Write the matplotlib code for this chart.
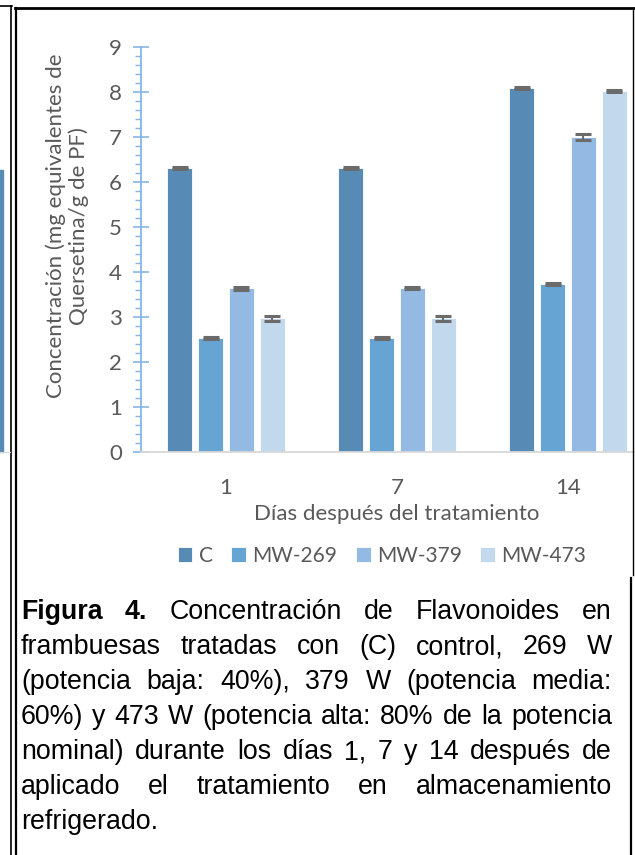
import matplotlib
matplotlib.use('Agg')
import numpy as np
import matplotlib.pyplot as plt
from matplotlib.lines import Line2D
from matplotlib.patches import Rectangle

# Flavonoid concentration (mg quercetin eq / g FW) per day and treatment
dias = ['1', '7', '14']
series = ['C', 'MW-269', 'MW-379', 'MW-473']
conc_c = [6.31, 6.31, 8.09]
conc_269 = [2.53, 2.53, 3.74]
conc_379 = [3.64, 3.64, 7.00]
conc_473 = [2.97, 2.97, 8.03]
err_c = [0.02, 0.02, 0.03]
err_269 = [0.02, 0.02, 0.02]
err_379 = [0.03, 0.02, 0.07]
err_473 = [0.05, 0.06, 0.02]

colores = ['#578BB6', '#65A4D3', '#94B9E2', '#C2D8ED']

caption = [
    [('Figura', True), ('4.', True), ('Concentración', False), ('de', False),
     ('Flavonoides', False), ('en', False)],
    'frambuesas tratadas con (C) control, 269 W',
    '(potencia baja: 40%), 379 W (potencia media:',
    '60%) y 473 W (potencia alta: 80% de la potencia',
    'nominal) durante los días 1, 7 y 14 después de',
    'aplicado el tratamiento en almacenamiento',
    'refrigerado.',
]

W, H = 635, 855
fig = plt.figure(figsize=(W / 100, H / 100), dpi=100)
fig.patch.set_facecolor('white')

gray = '#595959'
font = 'Lato'
fs = 16

# chart area (extends past the right edge of the page crop)
ax = fig.add_axes([140.5 / W, 1 - 452 / H, 513 / W, 405 / H])
x = np.arange(len(dias))
step = 0.181
bw = 0.146
vals = [conc_c, conc_269, conc_379, conc_473]
errs = [err_c, err_269, err_379, err_473]
for i, (v, e, c, s) in enumerate(zip(vals, errs, colores, series)):
    xs = x + (i - 1.5) * step
    ax.bar(xs, v, bw, color=c, edgecolor='white', linewidth=0.6, label=s, zorder=2)
    ax.errorbar(xs, v, yerr=e, fmt='none', ecolor='#6B6B6B', elinewidth=1.5,
                capsize=6, capthick=2.2, zorder=3)

ax.set_xlim(-0.5, 2.5)
ax.set_ylim(0, 9)
ax.set_yticks(range(10))
ax.set_yticks(np.arange(0, 9.01, 0.2), minor=True)
ax.set_xticks(x)
ax.set_xticklabels(dias)
for sp in ['top', 'right']:
    ax.spines[sp].set_visible(False)
ax.spines['left'].set_color('#86B5E3')
ax.spines['left'].set_linewidth(1.3)
ax.spines['bottom'].set_color('#D9D9D9')
ax.spines['bottom'].set_linewidth(1.3)
ax.tick_params(axis='y', which='major', direction='inout', length=11,
               width=1.2, color='#86B5E3', labelsize=fs, labelcolor=gray, pad=8)
ax.tick_params(axis='y', which='minor', direction='out', length=4.5,
               width=1.0, color='#86B5E3')
ax.tick_params(axis='x', length=0, labelsize=fs, labelcolor=gray, pad=19)
for lab in ax.get_xticklabels() + ax.get_yticklabels():
    lab.set_family(font)

ax.set_xlabel('Días después del tratamiento', fontsize=fs, color=gray,
              family=font, labelpad=4)
fig.text(67 / W, 1 - 226 / H, 'Concentración (mg equivalentes de\nQuersetina/g de PF)',
         rotation=90, ha='center', va='center', fontsize=fs, color=gray,
         family=font, linespacing=1.15)

fig.legend(loc='center', bbox_to_anchor=(382 / W, 1 - 556 / H), ncol=4,
           frameon=False, prop={'family': font, 'size': 15},
           labelcolor=gray, handlelength=0.7, handleheight=0.7,
           handletextpad=0.3, columnspacing=0.9)

# page frame lines
def hline(y, x0, x1, lw, color='black'):
    fig.add_artist(Line2D([x0 / W, x1 / W], [1 - y / H, 1 - y / H],
                          color=color, lw=lw, transform=fig.transFigure))

def vline(xp, y0, y1, lw):
    fig.add_artist(Line2D([xp / W, xp / W], [1 - y0 / H, 1 - y1 / H],
                          color='black', lw=lw, transform=fig.transFigure))

hline(6, 0, 11.5, 1.2)
vline(11, 6, H, 1.2)
vline(15.5, 8, H, 1.6)
hline(8.5, 15, 634, 2.0)
vline(633, 8, 575, 1.0)
vline(631, 578, H, 1.6)

# fragment of the neighbouring chart on the left
fig.add_artist(Rectangle((0, 1 - 452 / H), 3 / W, (452 - 170) / H,
                         color=colores[0], transform=fig.transFigure))
hline(452, 0, 10, 0.8, '#D9D9D9')

# justified caption
cap_font = 'Liberation Sans'
cap_size = 19.3
left, right = 21, 612
base0, lead = 619, 35
renderer = fig.canvas.get_renderer()
for k, line in enumerate(caption):
    words = line if isinstance(line, list) else [(w_, False) for w_ in line.split()]
    y = 1 - (base0 + k * lead) / H
    texts = []
    for w_, bold in words:
        t = fig.text(0, y, w_, fontsize=cap_size, family=cap_font, color='black',
                     fontweight='bold' if bold else 'normal', va='baseline')
        texts.append(t)
    widths = [t.get_window_extent(renderer).width for t in texts]
    if k == len(caption) - 1 or len(texts) == 1:
        g = 7
    else:
        g = (right - left - sum(widths)) / (len(texts) - 1)
    xp = left
    for t, wd in zip(texts, widths):
        t.set_x(xp / W)
        xp += wd + g

fig.savefig('out.png', dpi=100, facecolor='white')
